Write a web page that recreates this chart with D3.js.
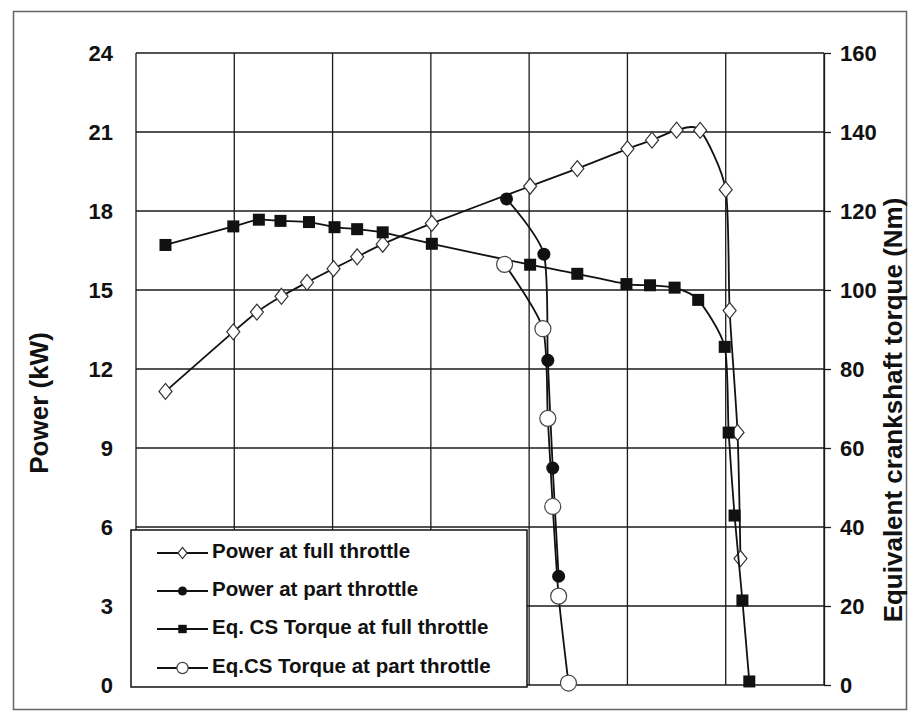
<!DOCTYPE html>
<html>
<head>
<meta charset="utf-8">
<script src="https://cdn.jsdelivr.net/npm/d3@7"></script>
<style>
  html, body { margin: 0; padding: 0; background: #fff; }
  svg { display: block; font-family: "Liberation Sans", Arial, sans-serif; }
</style>
</head>
<body>
<svg id="chart" width="915" height="719"></svg>
<script>
// Engine speed positions (unlabelled x axis) and measured values per series
const fullPowerSpeed = [300, 990, 1230, 1480, 1740, 2010, 2250, 2510, 3010, 4010, 4490, 5000, 5250, 5500, 5740, 6000, 6040, 6120, 6150];
const fullPowerKW    = [11.15, 13.41, 14.16, 14.76, 15.29, 15.81, 16.26, 16.74, 17.53, 18.94, 19.61, 20.36, 20.69, 21.07, 21.06, 18.81, 14.22, 9.59, 4.80];

const partPowerSpeed = [3770, 4150, 4190, 4240, 4300];
const partPowerKW    = [18.46, 16.36, 12.33, 8.24, 4.13];

const fullTorqueSpeed = [300, 990, 1250, 1470, 1760, 2020, 2250, 2510, 3010, 4010, 4490, 4990, 5230, 5480, 5720, 5990, 6030, 6090, 6170, 6240];
const fullTorqueNm    = [111.4, 116.1, 117.8, 117.5, 117.2, 115.9, 115.4, 114.6, 111.7, 106.4, 104.1, 101.5, 101.2, 100.6, 97.5, 85.6, 63.9, 42.9, 21.4, 0.9];

const partTorqueSpeed = [3750, 4140, 4190, 4240, 4300, 4400];
const partTorqueNm    = [106.5, 90.2, 67.5, 45.2, 22.5, 0.5];

// Axis ticks
const speedGrid   = [0, 1000, 2000, 3000, 4000, 5000, 6000, 7000];
const powerTicks  = [0, 3, 6, 9, 12, 15, 18, 21, 24];
const torqueTicks = [0, 20, 40, 60, 80, 100, 120, 140, 160];

const legendLabels = [
  "Power at full throttle",
  "Power at part throttle",
  "Eq. CS Torque at full throttle",
  "Eq.CS Torque at part throttle"
];

const svg = d3.select("#chart");
const plot = { left: 136, right: 824, top: 53, bottom: 685 };

const x  = d3.scaleLinear().domain([0, 7000]).range([plot.left, plot.right]);
const yP = d3.scaleLinear().domain([0, 24]).range([plot.bottom, plot.top]);
const yT = d3.scaleLinear().domain([0, 160]).range([plot.bottom, plot.top]);

// Outer frame
svg.append("rect")
  .attr("x", 13.5).attr("y", 11.5).attr("width", 893).attr("height", 698)
  .attr("fill", "#fff").attr("stroke", "#666").attr("stroke-width", 1.5);

// Grid
const grid = svg.append("g").attr("stroke", "#1a1a1a").attr("stroke-width", 1.3);
grid.selectAll("line.h").data(powerTicks).join("line")
  .attr("x1", plot.left).attr("x2", plot.right)
  .attr("y1", d => yP(d)).attr("y2", d => yP(d));
grid.selectAll("line.v").data(speedGrid).join("line")
  .attr("x1", d => x(d)).attr("x2", d => x(d))
  .attr("y1", plot.top).attr("y2", plot.bottom);

// Left axis labels
const leftAxis = svg.append("g")
  .attr("transform", `translate(${plot.left},0)`)
  .call(d3.axisLeft(yP).tickValues(powerTicks).tickSize(0).tickPadding(23).tickFormat(d3.format("d")));
leftAxis.select(".domain").remove();

// Right axis with outward ticks
const rightAxis = svg.append("g")
  .attr("transform", `translate(${plot.right},0)`)
  .call(d3.axisRight(yT).tickValues(torqueTicks).tickSize(7).tickSizeOuter(0).tickPadding(9).tickFormat(d3.format("d")));
rightAxis.select(".domain").attr("stroke", "#1a1a1a").attr("stroke-width", 1.3);
rightAxis.selectAll(".tick line").attr("stroke", "#1a1a1a").attr("stroke-width", 1.3);

[leftAxis, rightAxis].forEach(a => a.selectAll("text")
  .attr("font-size", 22).attr("font-weight", "bold").attr("fill", "#111")
  .attr("font-family", "'Liberation Sans', Arial, sans-serif"));

// Axis titles
svg.append("text")
  .attr("transform", "translate(41,403) rotate(-90)")
  .attr("text-anchor", "middle").attr("dominant-baseline", "middle")
  .attr("font-size", 26).attr("font-weight", "bold").attr("fill", "#111")
  .text("Power (kW)");
svg.append("text")
  .attr("transform", "translate(895,410) rotate(-90)")
  .attr("text-anchor", "middle").attr("dominant-baseline", "middle")
  .attr("font-size", 26).attr("font-weight", "bold").attr("fill", "#111")
  .text("Equivalent crankshaft torque (Nm)");

// Series (smoothed lines)
const curve = d3.curveCardinal.tension(0.3);
const series = [
  { sx: fullPowerSpeed,  sy: fullPowerKW,  y: yP, marker: "diamond" },
  { sx: partPowerSpeed,  sy: partPowerKW,  y: yP, marker: "dot" },
  { sx: fullTorqueSpeed, sy: fullTorqueNm, y: yT, marker: "square" },
  { sx: partTorqueSpeed, sy: partTorqueNm, y: yT, marker: "ring" }
];

function drawMarker(g, type, scale) {
  const k = scale || 1;
  if (type === "diamond") {
    g.append("path")
      .attr("d", `M0,${-8 * k}L${6.5 * k},0L0,${8 * k}L${-6.5 * k},0Z`)
      .attr("fill", "#fff").attr("stroke", "#333").attr("stroke-width", 1.2);
  } else if (type === "dot") {
    g.append("circle").attr("r", 6.5 * k).attr("fill", "#111");
  } else if (type === "square") {
    g.append("rect").attr("x", -6 * k).attr("y", -6 * k)
      .attr("width", 12 * k).attr("height", 12 * k).attr("fill", "#111");
  } else {
    g.append("circle").attr("r", 8 * k)
      .attr("fill", "#fff").attr("stroke", "#444").attr("stroke-width", 1.2);
  }
}

series.forEach(s => {
  const pts = s.sx.map((v, i) => [x(v), s.y(s.sy[i])]);
  svg.append("path")
    .attr("d", d3.line().curve(curve)(pts))
    .attr("fill", "none").attr("stroke", "#111").attr("stroke-width", 1.8);
  svg.append("g").selectAll("g").data(pts).join("g")
    .attr("transform", d => `translate(${d[0]},${d[1]})`)
    .each(function () { drawMarker(d3.select(this), s.marker, 1); });
});

// Legend
const legend = svg.append("g");
legend.append("rect")
  .attr("x", 131).attr("y", 530).attr("width", 396).attr("height", 157)
  .attr("fill", "#fff").attr("stroke", "#111").attr("stroke-width", 1.5);
const legendY = [553, 591, 629, 668];
series.forEach((s, i) => {
  const row = legend.append("g").attr("transform", `translate(0,${legendY[i]})`);
  row.append("line").attr("x1", 157).attr("x2", 208).attr("y1", 0).attr("y2", 0)
    .attr("stroke", "#111").attr("stroke-width", 1.8);
  drawMarker(row.append("g").attr("transform", "translate(182.5,0)"), s.marker, 0.7);
  row.append("text")
    .attr("x", 212).attr("y", 0).attr("dominant-baseline", "middle")
    .attr("font-size", 20.5).attr("font-weight", "bold").attr("fill", "#111")
    .text(legendLabels[i]);
});
</script>
</body>
</html>
